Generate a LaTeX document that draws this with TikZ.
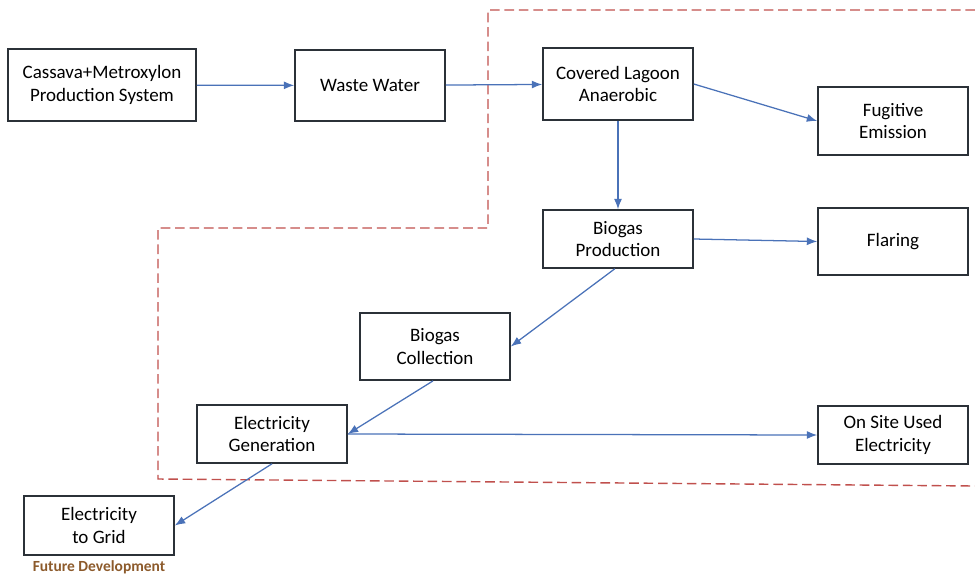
\documentclass[tikz,border=0pt]{standalone}
\usepackage{fontspec}
\setmainfont{Carlito}
\usepackage{xcolor}
\usetikzlibrary{arrows.meta}
\definecolor{flowblue}{HTML}{4A72B8}
\definecolor{boxline}{HTML}{2B3138}
\definecolor{limitred}{HTML}{C0504D}
\definecolor{futurebrown}{HTML}{8C5A2B}
\tikzset{
  procbox/.style={draw=boxline, line width=1.1pt, fill=white, align=center,
    minimum width=3.75cm, inner sep=2pt, font=\fontsize{13.5}{16}\selectfont},
  flow/.style={draw=flowblue, line width=0.9pt, -{Latex[length=0.26cm,width=0.2cm]}},
  limit/.style={draw=limitred, line width=1pt, dash pattern=on 0.24cm off 0.12cm}
}

\begin{document}
\begin{tikzpicture}[x=0.025cm, y=-0.025cm]
  \useasboundingbox (0,0) rectangle (975,575);
  \draw[limit] (975,10) -- (488,10) -- (488,228) -- (158,228) -- (158,479) -- (975,486);
  \node[procbox, minimum width=4.7cm, minimum height=1.8cm] (cassava) at (102,85) {Cassava+Metroxylon\\Production System};
  \node[procbox, minimum height=1.78cm] (waste) at (370,85.5) {Waste Water};
  \node[procbox, minimum height=1.8cm] (lagoon) at (618,84) {Covered Lagoon\\Anaerobic};
  \node[procbox, minimum height=1.7cm] (fugitive) at (893,121) {Fugitive\\Emission};
  \node[procbox, minimum height=1.45cm] (bioprod) at (618,239) {Biogas\\Production};
  \node[procbox, minimum height=1.68cm] (flaring) at (893,241.5) {Flaring};
  \node[procbox, minimum height=1.68cm] (biocoll) at (435,346.5) {Biogas\\Collection};
  \node[procbox, minimum height=1.45cm] (elecgen) at (272,434) {Electricity\\Generation};
  \node[procbox, minimum height=1.45cm] (onsite) at (893,435) {On Site Used\\Electricity};
  \node[procbox, minimum height=1.48cm] (grid) at (99,525.5) {Electricity\\to Grid};
  \node[text=futurebrown, font=\fontsize{11}{13}\selectfont\bfseries] (future) at (99,567) {Future Development};
  \draw[flow] (cassava) -- (waste);
  \draw[flow] (waste) -- (lagoon);
  \draw[flow] (lagoon.east) -- (fugitive.west);
  \draw[flow] (lagoon) -- (bioprod);
  \draw[flow] (bioprod.east) -- (flaring.west);
  \draw[flow] ([xshift=-0.08cm]bioprod.south) -- (biocoll.east);
  \draw[flow] ([xshift=-0.05cm]biocoll.south) -- (elecgen.east);
  \draw[flow] (elecgen.east) -- (onsite.west);
  \draw[flow] (elecgen.south) -- (grid.east);
\end{tikzpicture}
\end{document}
